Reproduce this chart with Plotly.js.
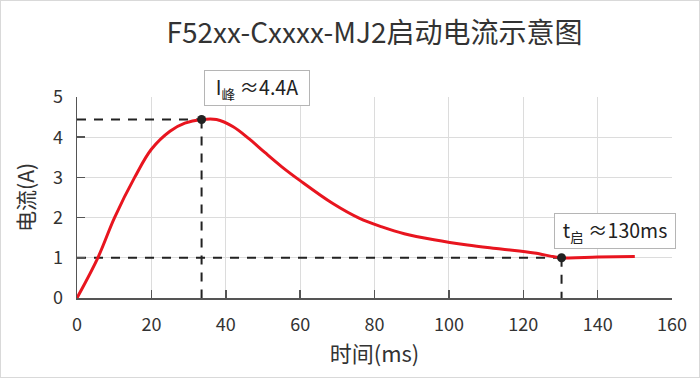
<!DOCTYPE html>
<html>
<head>
<meta charset="utf-8">
<script src="https://cdn.plot.ly/plotly-3.0.1.min.js"></script>
<style>
html,body{margin:0;padding:0;background:#fff;}
#wrap{position:relative;width:700px;height:378px;}
#chart{width:700px;height:378px;}
#frame{position:absolute;left:0;top:0;width:698px;height:376px;border:1px solid #d9d9d9;pointer-events:none;}
</style>
</head>
<body>
<div id="wrap"><div id="chart"></div><div id="frame"></div></div>
<script>
// Data
const timeMs = [0, 5.6, 10.1, 15.5, 20, 25, 29, 33.5, 37.5, 42, 46.4, 50.5, 55, 60, 68.8, 76, 82, 88, 96, 105, 114, 123, 130.3, 140, 150];
const currentA = [0, 1, 2, 3, 3.7, 4.15, 4.35, 4.44, 4.44, 4.26, 3.95, 3.62, 3.27, 2.92, 2.35, 1.98, 1.77, 1.60, 1.45, 1.32, 1.22, 1.12, 1.0, 1.02, 1.03];
const markT = [33.5, 130.3];
const markI = [4.44, 1.0];
const markLabels = ['I<sub>峰</sub> ≈4.4A', 't<sub>启</sub> ≈130ms'];
const xTicks = [0, 20, 40, 60, 80, 100, 120, 140, 160];
const yTicks = [0, 1, 2, 3, 4, 5];

const FONT = '"Noto Sans CJK SC", "Noto Sans", sans-serif';
const dashStyle = {color: '#222', width: 2, dash: '9px,8px'};

const traces = [];
for (let i = 0; i < markT.length; i++) {
  traces.push({x: [0, markT[i]], y: [markI[i], markI[i]], mode: 'lines', line: dashStyle, hoverinfo: 'skip', showlegend: false, cliponaxis: false});
  traces.push({x: [markT[i], markT[i]], y: [markI[i], 0], mode: 'lines', line: dashStyle, hoverinfo: 'skip', showlegend: false, cliponaxis: false});
}
traces.push({
  x: timeMs, y: currentA, mode: 'lines',
  line: {color: '#e8151f', width: 3, shape: 'spline', smoothing: 1},
  showlegend: false, cliponaxis: false
});
traces.push({
  x: markT, y: markI, mode: 'markers',
  marker: {color: '#222', size: 9},
  showlegend: false, cliponaxis: false
});

// label box positions (paper coords)
const annPos = [[0.302, 1.045], [0.904, 0.332]];
const annSize = [[96, 26], [112, 26]];
const annotations = markLabels.map((t, i) => ({
  x: annPos[i][0], y: annPos[i][1], xref: 'paper', yref: 'paper',
  xanchor: 'center', yanchor: 'middle',
  text: t, showarrow: false,
  width: annSize[i][0], height: annSize[i][1],
  font: {family: FONT, size: 19.5, color: '#222'},
  bgcolor: '#fff', bordercolor: '#b5b5b5', borderwidth: 1, borderpad: 4
}));

const axisCommon = {
  showgrid: true, gridcolor: '#dcdcdc', gridwidth: 1,
  zeroline: false, showline: true, linecolor: '#555', linewidth: 1.5,
  ticks: 'inside', ticklen: 8, tickcolor: '#555', tickwidth: 1.5,
  tickfont: {family: FONT, size: 18, color: '#333'}
};

const layout = {
  width: 700, height: 378,
  margin: {l: 77, r: 28, t: 97, b: 80},
  paper_bgcolor: '#fff', plot_bgcolor: '#fff',
  title: {text: 'F52xx-Cxxxx-MJ2启动电流示意图', x: 0.535, xanchor: 'center', yref: 'container', y: 0.912, yanchor: 'middle',
          font: {family: FONT, size: 28, color: '#333'}},
  xaxis: Object.assign({}, axisCommon, {
    range: [0, 160], tickvals: xTicks, ticktext: xTicks.map(String), ticklabelstandoff: 10,
    title: {text: '时间(ms)', font: {family: FONT, size: 22, color: '#333'}, standoff: 8}
  }),
  yaxis: Object.assign({}, axisCommon, {
    range: [0, 5], tickvals: yTicks, ticktext: yTicks.map(String), ticklabelstandoff: 9,
    title: {text: '电流(A)', font: {family: FONT, size: 21, color: '#333'}, standoff: 12}
  }),
  annotations: annotations,
  showlegend: false
};

Plotly.newPlot('chart', traces, layout, {displayModeBar: false, staticPlot: true});
</script>
</body>
</html>
